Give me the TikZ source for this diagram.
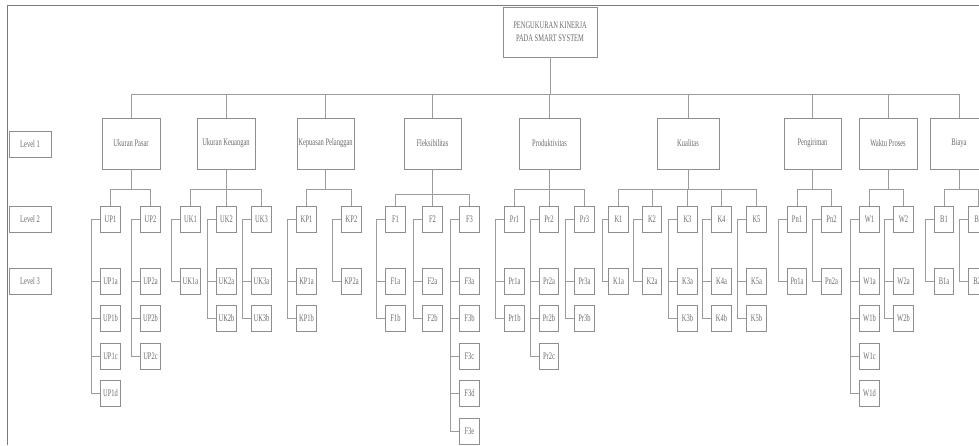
\documentclass[tikz,border=0pt]{standalone}
\usepackage{fontspec}
\setmainfont{Liberation Serif}[FakeStretch=0.65]
\definecolor{boxgray}{HTML}{8E8E8E}
\definecolor{textgray}{HTML}{6A6A6A}
\definecolor{linkgray}{HTML}{9C9C9C}
\definecolor{framegray}{HTML}{7A7A7A}
\tikzset{
  box/.style={draw=boxgray, line width=0.9pt, text=textgray, inner sep=0pt,
    align=center, font=\fontsize{10}{13}\selectfont},
  crit/.style={box, minimum width=58pt, minimum height=51pt},
  sub/.style={box, minimum width=19.5pt, minimum height=26pt},
  lvl/.style={box, minimum width=42pt, minimum height=26pt},
  link/.style={draw=linkgray, line width=0.8pt},
}
\begin{document}
\begin{tikzpicture}[x=1pt,y=-1pt]
\useasboundingbox (0,0) rectangle (979,445);
\clip (0,0) rectangle (979,445);
\draw[framegray, line width=1pt] (7,445) -- (7,5.5) -- (979,5.5);

% levels
\node[lvl] (lv1) at (30,144) {Level 1};
\node[lvl] (lv2) at (30,219) {Level 2};
\node[lvl] (lv3) at (30,281) {Level 3};

% root and level 1
\node[box, minimum width=94pt, minimum height=50pt] (root) at (550,32) {PENGUKURAN KINERJA\\PADA SMART SYSTEM};
\node[crit] (pasar) at (131,143.5) {Ukuran Pasar};
\node[crit] (keuangan) at (226,143.5) {Ukuran Keuangan};
\node[crit, minimum width=57pt] (kepuasan) at (325.5,143.5) {Kepuasan Pelanggan};
\node[crit, minimum width=57pt] (fleks) at (432.5,143.5) {Fleksibilitas};
\node[crit, minimum width=61pt] (produk) at (549.5,143.5) {Produktivitas};
\node[crit, minimum width=62pt] (kualitas) at (688,143.5) {Kualitas};
\node[crit, minimum width=57pt] (kirim) at (812.5,143.5) {Pengiriman};
\node[crit] (waktu) at (888,143.5) {Waktu Proses};
\node[crit] (biaya) at (959,143.5) {Biaya};

\draw[link] (root.south) -- ++(0,37) -| (pasar.north);
\draw[link] (root.south) -- ++(0,37) -| (keuangan.north);
\draw[link] (root.south) -- ++(0,37) -| (kepuasan.north);
\draw[link] (root.south) -- ++(0,37) -| (fleks.north);
\draw[link] (root.south) -- ++(0,37) -| (produk.north);
\draw[link] (root.south) -- ++(0,37) -| (kualitas.north);
\draw[link] (root.south) -- ++(0,37) -| (kirim.north);
\draw[link] (root.south) -- ++(0,37) -| (waktu.north);
\draw[link] (root.south) -- ++(0,37) -| (biaya.north);

% level 2
\node[sub] (up1) at (110.5,219) {UP1};
\node[sub] (up2) at (150.5,219) {UP2};
\node[sub] (uk1) at (190.5,219) {UK1};
\node[sub] (uk2) at (226.5,219) {UK2};
\node[sub] (uk3) at (261.5,219) {UK3};
\node[sub] (kp1) at (306.5,219) {KP1};
\node[sub] (kp2) at (351.5,219) {KP2};
\node[sub] (f1) at (395.5,219) {F1};
\node[sub] (f2) at (432.5,219) {F2};
\node[sub] (f3) at (469.5,219) {F3};
\node[sub] (pr1) at (514.5,219) {Pr1};
\node[sub] (pr2) at (549,219) {Pr2};
\node[sub] (pr3) at (584.5,219) {Pr3};
\node[sub] (k1) at (618.5,219) {K1};
\node[sub] (k2) at (652,219) {K2};
\node[sub] (k3) at (687.5,219) {K3};
\node[sub] (k4) at (721.5,219) {K4};
\node[sub] (k5) at (756.5,219) {K5};
\node[sub] (pn1) at (797,219) {Pn1};
\node[sub] (pn2) at (831.5,219) {Pn2};
\node[sub] (w1) at (869.5,219) {W1};
\node[sub] (w2) at (903.5,219) {W2};
\node[sub] (b1) at (944,219) {B1};
\node[sub] (b2) at (978.5,219) {B2};

\draw[link] (pasar.south) -- ++(0,20) -| (up1.north);
\draw[link] (pasar.south) -- ++(0,20) -| (up2.north);
\draw[link] (keuangan.south) -- ++(0,20) -| (uk1.north);
\draw[link] (keuangan.south) -- ++(0,20) -| (uk2.north);
\draw[link] (keuangan.south) -- ++(0,20) -| (uk3.north);
\draw[link] (kepuasan.south) -- ++(0,20) -| (kp1.north);
\draw[link] (kepuasan.south) -- ++(0,20) -| (kp2.north);
\draw[link] (fleks.south) -- ++(0,25) -| (f1.north);
\draw[link] (fleks.south) -- ++(0,25) -| (f2.north);
\draw[link] (fleks.south) -- ++(0,25) -| (f3.north);
\draw[link] (produk.south) -- ++(0,20) -| (pr1.north);
\draw[link] (produk.south) -- ++(0,20) -| (pr2.north);
\draw[link] (produk.south) -- ++(0,20) -| (pr3.north);
\draw[link] (kualitas.south) -- ++(0,20) -| (k1.north);
\draw[link] (kualitas.south) -- ++(0,20) -| (k2.north);
\draw[link] (kualitas.south) -- ++(0,20) -| (k3.north);
\draw[link] (kualitas.south) -- ++(0,20) -| (k4.north);
\draw[link] (kualitas.south) -- ++(0,20) -| (k5.north);
\draw[link] (kirim.south) -- ++(0,20) -| (pn1.north);
\draw[link] (kirim.south) -- ++(0,20) -| (pn2.north);
\draw[link] (waktu.south) -- ++(0,20) -| (w1.north);
\draw[link] (waktu.south) -- ++(0,20) -| (w2.north);
\draw[link] (biaya.south) -- ++(0,20) -| (b1.north);
\draw[link] (biaya.south) -- ++(0,20) -| (b2.north);

% level 3
\node[sub] (up1a) at (110.5,281) {UP1a};
\node[sub] (up1b) at (110.5,318.5) {UP1b};
\node[sub] (up1c) at (110.5,356) {UP1c};
\node[sub] (up1d) at (110.5,393.5) {UP1d};
\node[sub] (up2a) at (150.5,281) {UP2a};
\node[sub] (up2b) at (150.5,318.5) {UP2b};
\node[sub] (up2c) at (150.5,356) {UP2c};
\node[sub] (uk1a) at (190.5,281) {UK1a};
\node[sub] (uk2a) at (226.5,281) {UK2a};
\node[sub] (uk2b) at (226.5,318.5) {UK2b};
\node[sub] (uk3a) at (261.5,281) {UK3a};
\node[sub] (uk3b) at (261.5,318.5) {UK3b};
\node[sub] (kp1a) at (306.5,281) {KP1a};
\node[sub] (kp1b) at (306.5,318.5) {KP1b};
\node[sub] (kp2a) at (351.5,281) {KP2a};
\node[sub] (f1a) at (395.5,281) {F1a};
\node[sub] (f1b) at (395.5,318.5) {F1b};
\node[sub] (f2a) at (432.5,281) {F2a};
\node[sub] (f2b) at (432.5,318.5) {F2b};
\node[sub] (f3a) at (469.5,281) {F3a};
\node[sub] (f3b) at (469.5,318.5) {F3b};
\node[sub] (f3c) at (469.5,356) {F3c};
\node[sub] (f3d) at (469.5,393.5) {F3d};
\node[sub] (f3e) at (469.5,431) {F3e};
\node[sub] (pr1a) at (514.5,281) {Pr1a};
\node[sub] (pr1b) at (514.5,318.5) {Pr1b};
\node[sub] (pr2a) at (549,281) {Pr2a};
\node[sub] (pr2b) at (549,318.5) {Pr2b};
\node[sub] (pr2c) at (549,356) {Pr2c};
\node[sub] (pr3a) at (584.5,281) {Pr3a};
\node[sub] (pr3b) at (584.5,318.5) {Pr3b};
\node[sub] (k1a) at (618.5,281) {K1a};
\node[sub] (k2a) at (652,281) {K2a};
\node[sub] (k3a) at (687.5,281) {K3a};
\node[sub] (k3b) at (687.5,318.5) {K3b};
\node[sub] (k4a) at (721.5,281) {K4a};
\node[sub] (k4b) at (721.5,318.5) {K4b};
\node[sub] (k5a) at (756.5,281) {K5a};
\node[sub] (k5b) at (756.5,318.5) {K5b};
\node[sub] (pn1a) at (797,281) {Pn1a};
\node[sub] (pn2a) at (831.5,281) {Pn2a};
\node[sub] (w1a) at (869.5,281) {W1a};
\node[sub] (w1b) at (869.5,318.5) {W1b};
\node[sub] (w1c) at (869.5,356) {W1c};
\node[sub] (w1d) at (869.5,393.5) {W1d};
\node[sub] (w2a) at (903.5,281) {W2a};
\node[sub] (w2b) at (903.5,318.5) {W2b};
\node[sub] (b1a) at (944,281) {B1a};
\node[sub] (b2a) at (978.5,281) {B2a};

\draw[link] (up1.west) -- ++(-8.5,0) |- (up1a.west);
\draw[link] (up1.west) -- ++(-8.5,0) |- (up1b.west);
\draw[link] (up1.west) -- ++(-8.5,0) |- (up1c.west);
\draw[link] (up1.west) -- ++(-8.5,0) |- (up1d.west);
\draw[link] (up2.west) -- ++(-8.5,0) |- (up2a.west);
\draw[link] (up2.west) -- ++(-8.5,0) |- (up2b.west);
\draw[link] (up2.west) -- ++(-8.5,0) |- (up2c.west);
\draw[link] (uk1.west) -- ++(-8.5,0) |- (uk1a.west);
\draw[link] (uk2.west) -- ++(-8.5,0) |- (uk2a.west);
\draw[link] (uk2.west) -- ++(-8.5,0) |- (uk2b.west);
\draw[link] (uk3.west) -- ++(-8.5,0) |- (uk3a.west);
\draw[link] (uk3.west) -- ++(-8.5,0) |- (uk3b.west);
\draw[link] (kp1.west) -- ++(-8.5,0) |- (kp1a.west);
\draw[link] (kp1.west) -- ++(-8.5,0) |- (kp1b.west);
\draw[link] (kp2.west) -- ++(-8.5,0) |- (kp2a.west);
\draw[link] (f1.west) -- ++(-8.5,0) |- (f1a.west);
\draw[link] (f1.west) -- ++(-8.5,0) |- (f1b.west);
\draw[link] (f2.west) -- ++(-8.5,0) |- (f2a.west);
\draw[link] (f2.west) -- ++(-8.5,0) |- (f2b.west);
\draw[link] (f3.west) -- ++(-8.5,0) |- (f3a.west);
\draw[link] (f3.west) -- ++(-8.5,0) |- (f3b.west);
\draw[link] (f3.west) -- ++(-8.5,0) |- (f3c.west);
\draw[link] (f3.west) -- ++(-8.5,0) |- (f3d.west);
\draw[link] (f3.west) -- ++(-8.5,0) |- (f3e.west);
\draw[link] (pr1.west) -- ++(-8.5,0) |- (pr1a.west);
\draw[link] (pr1.west) -- ++(-8.5,0) |- (pr1b.west);
\draw[link] (pr2.west) -- ++(-8.5,0) |- (pr2a.west);
\draw[link] (pr2.west) -- ++(-8.5,0) |- (pr2b.west);
\draw[link] (pr2.west) -- ++(-8.5,0) |- (pr2c.west);
\draw[link] (pr3.west) -- ++(-8.5,0) |- (pr3a.west);
\draw[link] (pr3.west) -- ++(-8.5,0) |- (pr3b.west);
\draw[link] (k1.west) -- ++(-6,0) |- (k1a.west);
\draw[link] (k2.west) -- ++(-8.5,0) |- (k2a.west);
\draw[link] (k3.west) -- ++(-8.5,0) |- (k3a.west);
\draw[link] (k3.west) -- ++(-8.5,0) |- (k3b.west);
\draw[link] (k4.west) -- ++(-8.5,0) |- (k4a.west);
\draw[link] (k4.west) -- ++(-8.5,0) |- (k4b.west);
\draw[link] (k5.west) -- ++(-8.5,0) |- (k5a.west);
\draw[link] (k5.west) -- ++(-8.5,0) |- (k5b.west);
\draw[link] (pn1.west) -- ++(-8.5,0) |- (pn1a.west);
\draw[link] (pn2.west) -- ++(-8.5,0) |- (pn2a.west);
\draw[link] (w1.west) -- ++(-8.5,0) |- (w1a.west);
\draw[link] (w1.west) -- ++(-8.5,0) |- (w1b.west);
\draw[link] (w1.west) -- ++(-8.5,0) |- (w1c.west);
\draw[link] (w1.west) -- ++(-8.5,0) |- (w1d.west);
\draw[link] (w2.west) -- ++(-8.5,0) |- (w2a.west);
\draw[link] (w2.west) -- ++(-8.5,0) |- (w2b.west);
\draw[link] (b1.west) -- ++(-8.5,0) |- (b1a.west);
\draw[link] (b2.west) -- ++(-8.5,0) |- (b2a.west);
\end{tikzpicture}
\end{document}
